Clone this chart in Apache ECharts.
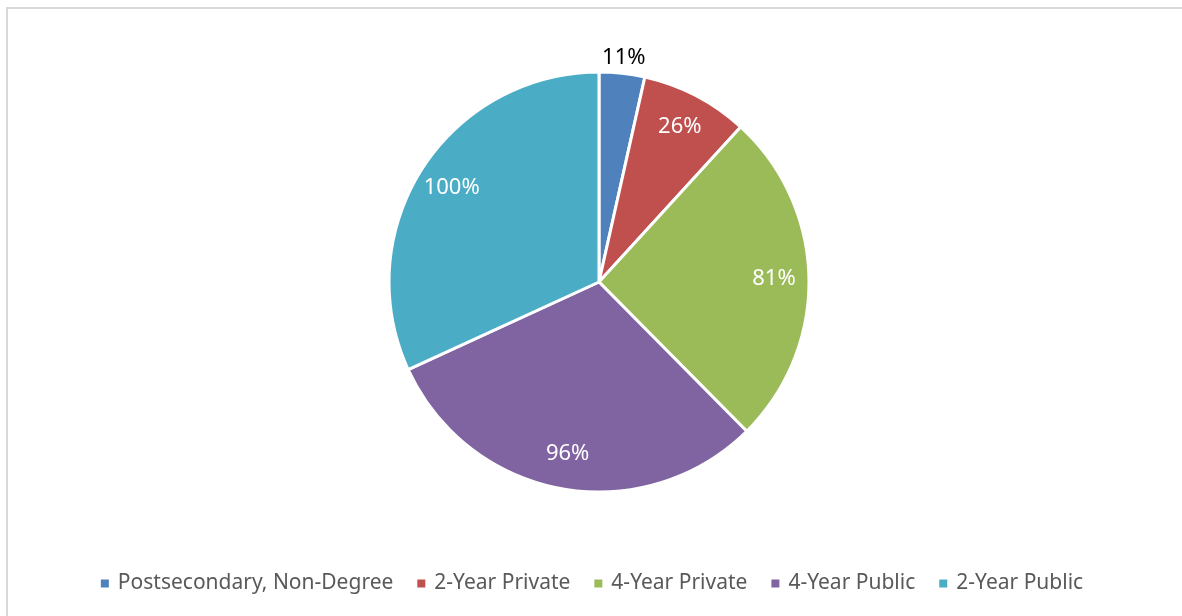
<!DOCTYPE html>
<html>
<head>
<meta charset="utf-8">
<script src="https://cdn.jsdelivr.net/npm/echarts@6/dist/echarts.min.js"></script>
<style>
  html, body { margin: 0; padding: 0; background: #fff; }
  #frame { position: absolute; left: 6px; top: 7px; width: 1200px; height: 640px; border-top: 2px solid #d9d9d9; border-left: 2px solid #d9d9d9; box-sizing: border-box; }
  #chart { position: absolute; left: 0; top: 0; width: 1182px; height: 616px; }
</style>
</head>
<body>
<div id="frame"></div>
<div id="chart"></div>
<script>
const categories = ['Postsecondary, Non-Degree', '2-Year Private', '4-Year Private', '4-Year Public', '2-Year Public'];
const values = [11, 26, 81, 96, 100];
const colors = ['#4f81bd', '#c0504d', '#9bbb59', '#8064a2', '#4bacc6'];
const outsideLabelIndex = 0;

const FONT = '"Noto Sans", "Open Sans", sans-serif';
const center = [599, 282];
const R = 210;

const mainData = categories.map((c, i) => ({ name: c, value: values[i], itemStyle: { color: colors[i] } }));
const insideData = categories.map((c, i) => ({
  name: c, value: values[i],
  label: { show: i !== outsideLabelIndex }
}));
const outsideData = categories.map((c, i) => ({
  name: c, value: values[i],
  label: { show: i === outsideLabelIndex }
}));

const chart = echarts.init(document.getElementById('chart'), null, { renderer: 'canvas' });
chart.setOption({
  animation: false,
  backgroundColor: 'transparent',
  legend: {
    bottom: 17,
    left: 'center',
    icon: 'rect',
    itemWidth: 10,
    itemHeight: 10,
    itemGap: 22,
    data: categories,
    textStyle: { fontFamily: FONT, fontSize: 21, color: '#595959', padding: [0, 0, 0, 3] }
  },
  series: [
    {
      type: 'pie',
      center: center,
      radius: [0, R],
      startAngle: 90,
      clockwise: true,
      data: mainData,
      label: { show: false },
      labelLine: { show: false },
      itemStyle: { borderColor: '#ffffff', borderWidth: 3 },
      emphasis: { disabled: true }
    },
    {
      type: 'pie',
      center: center,
      radius: [134, R],
      startAngle: 90,
      clockwise: true,
      silent: true,
      legendHoverLink: false,
      data: insideData,
      itemStyle: { color: 'rgba(0,0,0,0)' },
      label: { position: 'inside', formatter: '{c}%', color: '#ffffff', fontFamily: FONT, fontSize: 22 },
      labelLine: { show: false },
      emphasis: { disabled: true }
    },
    {
      type: 'pie',
      center: center,
      radius: [210, 236],
      startAngle: 90,
      clockwise: true,
      silent: true,
      legendHoverLink: false,
      data: outsideData,
      itemStyle: { color: 'rgba(0,0,0,0)' },
      label: { position: 'inside', formatter: '{c}%', color: '#000000', fontFamily: FONT, fontSize: 22 },
      labelLine: { show: false },
      emphasis: { disabled: true }
    }
  ]
});
</script>
</body>
</html>
